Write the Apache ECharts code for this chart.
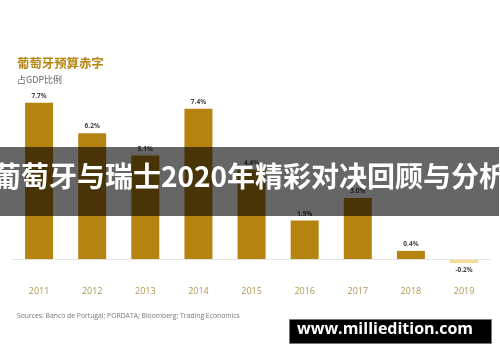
<!DOCTYPE html>
<html><head><meta charset="utf-8">
<script src="https://cdn.jsdelivr.net/npm/echarts@6/dist/echarts.min.js"></script>
<style>html,body{margin:0;padding:0;background:#fff}#c{width:500px;height:362px}</style>
</head><body><div id="c"></div>
<script>
var categories = ['2011','2012','2013','2014','2015','2016','2017','2018','2019'];
var deficitPct = [7.7, 6.2, 5.1, 7.4, 4.4, 1.9, 3.0, 0.4, -0.2];
var titleText = '葡萄牙预算赤字';
var subtitleText = '占GDP比例';
var sourceText = 'Sources: Banco de Portugal; PORDATA; Bloomberg; Trading Economics';
var bannerText = '葡萄牙与瑞士2020年精彩对决回顾与分析';
var watermarkText = 'www.milliedition.com';

var chart = echarts.init(document.getElementById('c'), null, {renderer:'canvas'});
var barData = deficitPct.map(function(v){
  return v < 0 ? {value:v, itemStyle:{color:'#f6dc8e'}, label:{position:'bottom', distance:4}} : {value:v};
});
chart.setOption({
  backgroundColor:'#fff',
  animation:false,
  title:[
    {text:titleText, left:12, top:52, textStyle:{fontFamily:'Noto Sans CJK SC', fontSize:12.4, fontWeight:'bold', color:'#b5850f'}},
    {text:subtitleText, left:12, top:70, textStyle:{fontFamily:'Noto Sans CJK SC', fontSize:9, fontWeight:'normal', color:'#666'}},
    {text:sourceText, left:12, top:308, textStyle:{fontFamily:'Open Sans', fontSize:6.8, fontWeight:'normal', color:'#777'}}
  ],
  grid:{left:12.5, right:9.4, top:76.3, bottom:82.7, containLabel:false},
  xAxis:{type:'category', data:categories, axisLine:{show:false, onZero:false}, axisTick:{show:false},
    axisLabel:{margin:8, fontFamily:'Open Sans', fontSize:9, color:'#ad9550'}},
  yAxis:{type:'value', min:-1, max:9, show:false, splitLine:{show:false}},
  series:[{
    type:'bar', data:barData, barWidth:28, itemStyle:{color:'#b5830f'},
    label:{show:true, position:'top', distance:3, fontFamily:'Open Sans', fontSize:6.5, fontWeight:'bold', color:'#444',
      formatter:function(p){return p.value.toFixed(1)+'%';}},
    markLine:{silent:true, symbol:'none', label:{show:false}, lineStyle:{color:'#e3e3e3', width:1, type:'solid'},
      data:[{yAxis:0}]}
  }],
  graphic:[
    {type:'rect', left:0, top:147, shape:{width:499, height:69}, style:{fill:'rgba(0,0,0,0.6)'}, z:100},
    {type:'text', left:'center', top:162, style:{text:bannerText, fill:'#fff', font:'bold 28px "Noto Sans CJK SC"'}, z:101},
    {type:'rect', left:289, top:319, shape:{width:202, height:24}, style:{fill:'#000', stroke:'#777', lineWidth:1}, z:100},
    {type:'text', left:297, top:321, style:{text:watermarkText, fill:'#fff', font:'bold 16px "Open Sans"'}, z:101}
  ]
});
</script></body></html>
